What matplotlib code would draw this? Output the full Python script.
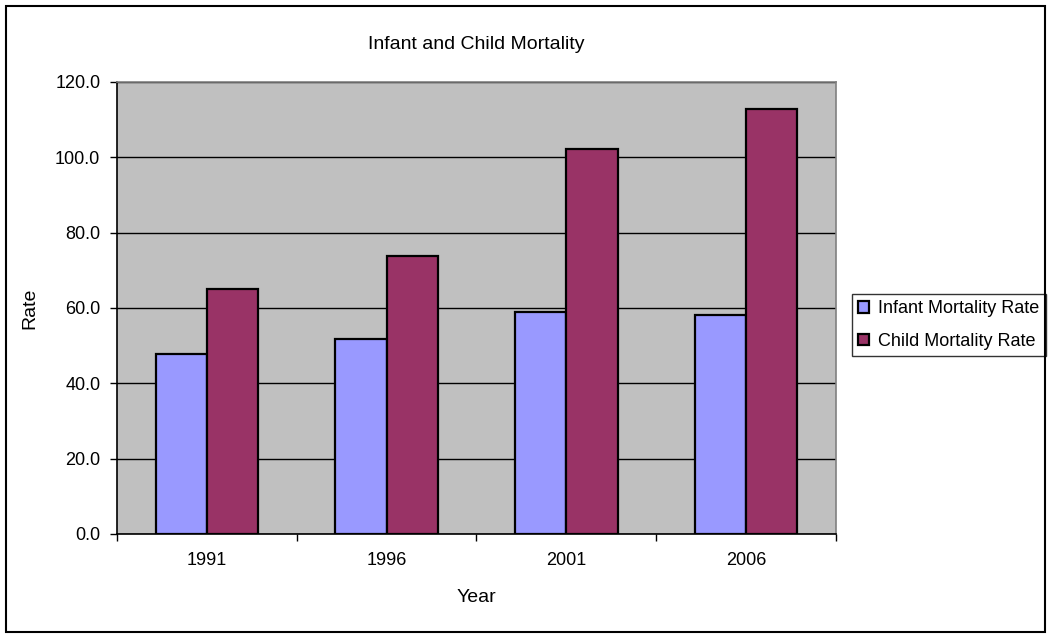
import numpy as np
import matplotlib
matplotlib.use('Agg')
import matplotlib.pyplot as plt
from matplotlib.patches import Rectangle

################################################################################
# Data: rates per 1000 by survey year
################################################################################

years  = ['1991', '1996', '2001', '2006']
infant = [47.9, 51.8, 58.9, 58.1]
child  = [65.1, 73.7, 102.1, 112.8]
series = ['Infant Mortality Rate', 'Child Mortality Rate']
yticks = [0, 20, 40, 60, 80, 100, 120]

INFANT_COLOR = '#9999FF'
CHILD_COLOR  = '#993366'

plt.rcParams['font.family'] = ['Liberation Sans', 'DejaVu Sans']

def main():
	fig = plt.figure(figsize = (10.48, 6.35), dpi = 100)
	fig.patch.set_facecolor('white')

	# border round the whole chart
	fig.patches.append(Rectangle((0.006, 0.004), 0.991, 0.987, transform = fig.transFigure,
		fill = False, edgecolor = 'black', linewidth = 1.5))

	ax = fig.add_axes([117 / 1048, 1 - 534 / 635, 719 / 1048, 452 / 635])
	ax.set_facecolor('#C0C0C0')

	x = np.arange(len(years))
	w = 1 / 3.5
	ax.bar(x - w / 2, infant, w, color = INFANT_COLOR, edgecolor = 'black', linewidth = 1.6,
		label = series[0], zorder = 3)
	ax.bar(x + w / 2, child, w, color = CHILD_COLOR, edgecolor = 'black', linewidth = 1.6,
		label = series[1], zorder = 3)

	ax.set_xlim(-0.5, len(years) - 0.5)
	ax.set_ylim(0, 120)

	# y axis
	ax.set_yticks(yticks)
	ax.set_yticklabels(['%.1f' % v for v in yticks])
	ax.tick_params(axis = 'y', direction = 'out', length = 5, width = 1, pad = 7, labelsize = 13)
	ax.yaxis.grid(True, color = 'black', linewidth = 1, zorder = 1)
	ax.set_axisbelow(True)

	# x axis: marks between groups, labels in the middle
	ax.set_xticks(np.arange(-0.5, len(years), 1))
	ax.set_xticklabels([])
	ax.set_xticks(x, minor = True)
	ax.set_xticklabels(years, minor = True)
	ax.tick_params(axis = 'x', which = 'major', direction = 'out', length = 5, width = 1)
	ax.tick_params(axis = 'x', which = 'minor', length = 0, pad = 13, labelsize = 13)

	for side in ['left', 'bottom']:
		ax.spines[side].set_color('black')
		ax.spines[side].set_linewidth(1.2)
	for side in ['top', 'right']:
		ax.spines[side].set_color('#808080')
		ax.spines[side].set_linewidth(1.2)

	ax.set_xlabel('Year', fontsize = 14, labelpad = 14)
	ax.set_ylabel('Rate', fontsize = 14, labelpad = 12)
	ax.set_title('Infant and Child Mortality', fontsize = 14, pad = 24)

	leg = ax.legend(loc = 'upper left', bbox_to_anchor = (852 / 1048, 1 - 294 / 635),
		bbox_transform = fig.transFigure, fontsize = 13, frameon = True, fancybox = False,
		handlelength = 0.6, handleheight = 0.6, handletextpad = 0.5, borderpad = 0.35,
		labelspacing = 0.85, borderaxespad = 0)
	leg.get_frame().set_edgecolor('black')
	leg.get_frame().set_linewidth(1)

	fig.savefig('out.png', dpi = 100)

if __name__ == '__main__':
	main()
